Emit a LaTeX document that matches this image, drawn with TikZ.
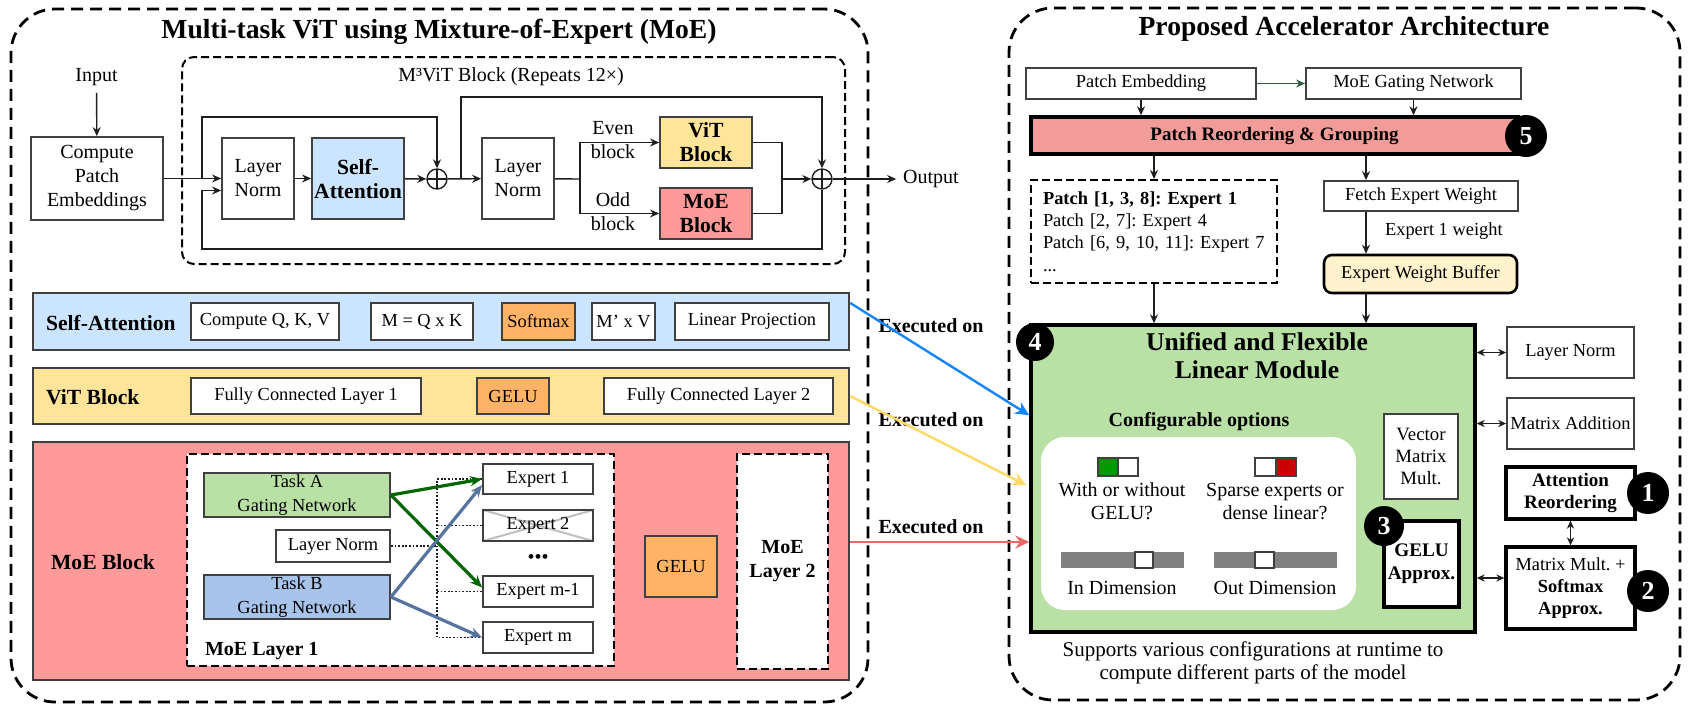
\documentclass[tikz,border=0pt]{standalone}
\usepackage{fontspec}
\setmainfont{Liberation Serif}
\usepackage{tikz}
\usetikzlibrary{arrows.meta,positioning,calc}
\frenchspacing
\definecolor{mvblue}{HTML}{CCE5FF}
\definecolor{mvyellow}{HTML}{FFE599}
\definecolor{mvpink}{HTML}{FF9A9A}
\definecolor{mvorange}{HTML}{FFB366}
\definecolor{mvgreen}{HTML}{B9E0A5}
\definecolor{mvsteel}{HTML}{A9C4EB}
\definecolor{mvroutegreen}{HTML}{006600}
\definecolor{mvrouteblue}{HTML}{56739E}
\definecolor{mvsalmon}{HTML}{F19C99}
\definecolor{mvcream}{HTML}{FFF2CC}
\definecolor{mvtoggle}{HTML}{009900}
\definecolor{mvred}{HTML}{CC0000}
\definecolor{mvgray}{HTML}{808080}
\definecolor{mvforest}{HTML}{2F5F40}
\definecolor{mvexblue}{HTML}{1585FF}
\definecolor{mvexyellow}{HTML}{FFD966}
\definecolor{mvexred}{HTML}{EA6B66}
\definecolor{mvink}{HTML}{1E1E1E}
\definecolor{mvline}{HTML}{404040}
\newcommand{\fsBody}{\fontsize{10}{12}\selectfont}
\newcommand{\fsSmall}{\fontsize{9.2}{11.2}\selectfont}
\newcommand{\fsBig}{\fontsize{10.8}{12}\selectfont}
\newcommand{\fsHead}{\fontsize{13.8}{16}\selectfont\bfseries}
\tikzset{
  flow/.style={-{Stealth[length=4.5pt,width=4pt]},line width=0.7pt,draw=mvink},
  link/.style={line width=0.7pt,draw=mvink},
  dualflow/.style={{Stealth[length=4pt,width=3.6pt]}-{Stealth[length=4pt,width=3.6pt]},line width=0.7pt,draw=mvink},
  execarrow/.style={-{Stealth[length=7pt,width=6.5pt]},line width=1.2pt},
  route/.style={-{Stealth[length=6pt,width=5pt]},line width=1.6pt},
  dotline/.style={line width=0.9pt,dash pattern=on 0.9pt off 0.9pt,draw=mvink},
  bsize/.style 2 args={minimum width=#1*0.5pt,minimum height=#2*0.5pt},
  box/.style={draw=mvline,line width=0.9pt,fill=white,align=center,inner sep=1pt,font=\fsBody},
  opbox/.style={box,font=\fsSmall},
  boldbox/.style={box,draw=black,line width=1.7pt,font=\fsSmall\bfseries},
  band/.style={draw=mvline,line width=1.1pt},
  panel/.style={draw=black,line width=1.4pt,dash pattern=on 6pt off 3.5pt,rounded corners=22pt},
  subpanel/.style={draw=black,fill=white,line width=1pt,dash pattern=on 4pt off 2pt},
  badge/.style={circle,fill=black,text=white,font=\fontsize{13}{13}\selectfont\bfseries,inner sep=0pt,minimum size=21pt},
  adder/.style={circle,draw=mvink,line width=0.7pt,fill=white,inner sep=0pt,minimum size=10pt,
    path picture={\draw[line width=0.7pt] (path picture bounding box.north) -- (path picture bounding box.south)
      (path picture bounding box.west) -- (path picture bounding box.east);}}
}
\begin{document}
\begin{tikzpicture}[x=0.5pt,y=-0.5pt]
  \useasboundingbox (0,0) rectangle (1689,709);
  \node[panel,bsize={857}{693}] (leftpanel) at (439.5,355.5) {};
  \node[panel,bsize={671}{692}] (rightpanel) at (1344.5,354) {};
  \node[font=\fsHead] (lefttitle) at (439,32) {Multi-task ViT using Mixture-of-Expert (MoE)};
  \node[font=\fsHead] (righttitle) at (1344,29) {Proposed Accelerator Architecture};

  \node[subpanel,fill=none,rounded corners=6pt,bsize={663}{207}] (m3box) at (513.5,160.5) {};
  \node[font=\fsBody] (m3label) at (511,77) {M³ViT Block (Repeats 12×)};
  \node[font=\fsBody] (input) at (96.5,77) {Input};
  \node[box,bsize={132}{83}] (cpe) at (97,178.5) {Compute\\Patch\\Embeddings};
  \node[box,bsize={72}{81}] (ln1) at (258,178.5) {Layer\\Norm};
  \node[box,fill=mvblue,bsize={92}{81},font=\fsBig\bfseries] (selfatt) at (358,178.5) {Self-\\Attention};
  \node[adder] (add1) at (437,179) {};
  \node[box,bsize={72}{81}] (ln2) at (518,178.5) {Layer\\Norm};
  \node[box,fill=mvyellow,bsize={92}{51},font=\fsBig\bfseries] (vitblk) at (706,142.5) {ViT\\Block};
  \node[box,fill=mvpink,bsize={92}{51},font=\fsBig\bfseries] (moeblk) at (706,213.5) {MoE\\Block};
  \node[adder] (add2) at (822,179) {};
  \node[font=\fsBody] (output) at (931,179) {Output};
  \node[font=\fsBody,align=center] (evenlbl) at (613,140.5) {Even\\block};
  \node[font=\fsBody,align=center] (oddlbl) at (613,212) {Odd\\block};
  \coordinate (sk1) at (202,179);
  \coordinate (sk1b) at (202,249);
  \coordinate (sk2) at (461,179);
  \coordinate (br) at (580,179);
  \coordinate (mg) at (782,179);
  \draw[flow] (input) -- (cpe);
  \draw[flow] (cpe) -- (ln1);
  \draw[flow] (ln1) -- (selfatt);
  \draw[flow] (selfatt) -- (add1);
  \draw[flow] (add1) -- (ln2);
  \draw[flow] (sk1) -- ++(0,-62) -| (add1.north);
  \draw[flow] (add2.south) |- (sk1b) |- ([yshift=-6pt]ln1.west);
  \draw[flow] (sk2) -- ++(0,-82) -| (add2.north);
  \draw[link] (ln2) -- (br);
  \draw[flow] (br) |- (vitblk);
  \draw[flow] (br) |- (moeblk);
  \draw[link] (vitblk) -| (mg);
  \draw[link] (moeblk) -| (mg);
  \draw[flow] (mg) -- (add2);
  \draw[flow] (add2) -- (output);

  \node[band,fill=mvblue,bsize={816}{57}] (saband) at (441,321.5) {};
  \node[font=\fsBig\bfseries,anchor=west] (salbl) at (39,323) {Self-Attention};
  \node[opbox,bsize={148}{37}] (qkv) at (265,321.5) {Compute Q, K, V};
  \node[opbox,bsize={102}{37}] (mqk) at (422,321.5) {M = Q x K};
  \node[opbox,fill=mvorange,bsize={73}{37}] (smax) at (538.5,321.5) {Softmax};
  \node[opbox,bsize={63}{37}] (mv) at (623.5,321.5) {M' x V};
  \node[opbox,bsize={154}{37}] (lproj) at (752,321.5) {Linear Projection};

  \node[band,fill=mvyellow,bsize={816}{56}] (vitband) at (441,396) {};
  \node[font=\fsBig\bfseries,anchor=west] (vitlbl) at (39,397) {ViT Block};
  \node[opbox,bsize={230}{36}] (fc1) at (306,396) {Fully Connected Layer 1};
  \node[opbox,fill=mvorange,bsize={72}{36}] (gelu1) at (513,396) {GELU};
  \node[opbox,bsize={229}{36}] (fc2) at (718.5,396) {Fully Connected Layer 2};

  \node[band,fill=mvpink,bsize={816}{238}] (moeband) at (441,561) {};
  \node[font=\fsBig\bfseries,anchor=west] (moelbl) at (44,562) {MoE Block};
  \node[subpanel,bsize={427}{212}] (layer1) at (400.5,560) {};
  \node[font=\fsBody\bfseries,anchor=west] (layer1lbl) at (198,651) {MoE Layer 1};
  \node[opbox,fill=mvgreen,bsize={186}{42},font=\fontsize{9.2}{12}\selectfont] (taska) at (297,495) {Task A\\Gating Network};
  \node[opbox,bsize={114}{32}] (lnm) at (333,546) {Layer Norm};
  \node[opbox,fill=mvsteel,bsize={186}{42},font=\fontsize{9.2}{12}\selectfont] (taskb) at (297,597) {Task B\\Gating Network};
  \node[opbox,bsize={110}{30}] (e1) at (538,479) {Expert 1};
  \node[opbox,bsize={110}{31},path picture={\draw[black!25,line width=1pt] (path picture bounding box.north west) -- (path picture bounding box.south east) (path picture bounding box.south west) -- (path picture bounding box.north east);}] (e2) at (538,525.5) {Expert 2};
  \node[font=\fsBody] (edots) at (538,559) {•••};
  \node[opbox,bsize={110}{31}] (em1) at (538,591.5) {Expert m-1};
  \node[opbox,bsize={110}{31}] (em) at (538,637.5) {Expert m};
  \node[opbox,fill=mvorange,bsize={72}{61}] (gelu2) at (681,566.5) {GELU};
  \node[subpanel,font=\fsBody\bfseries,align=center,bsize={91}{215}] (layer2) at (782.5,561.5) {MoE\\Layer 2};
  \coordinate (tap) at (437,546);
  \draw[dotline] (lnm.east) -- (tap);
  \draw[dotline] (e1.west) -| (tap) |- (em.west);
  \draw[dotline] (tap |- e2.west) -- (e2.west);
  \draw[dotline] (tap |- em1.west) -- (em1.west);
  \draw[route,draw=mvroutegreen] (taska.east) -- (e1.west);
  \draw[route,draw=mvroutegreen] (taska.east) -- ([yshift=2pt]em1.west);
  \draw[route,draw=mvrouteblue] (taskb.east) -- ([yshift=-3pt]e1.west);
  \draw[route,draw=mvrouteblue] (taskb.east) -- (em.west);

  \node[font=\fsBody\bfseries] (exec1) at (931,326) {Executed on};
  \node[font=\fsBody\bfseries] (exec2) at (931,420) {Executed on};
  \node[font=\fsBody\bfseries] (exec3) at (931,527) {Executed on};

  \node[opbox,bsize={230}{31}] (patchemb) at (1141,83.5) {Patch Embedding};
  \node[opbox,bsize={215}{31}] (gatenet) at (1413.5,83.5) {MoE Gating Network};
  \node[boldbox,fill=mvsalmon,font=\fontsize{9.5}{11}\selectfont\bfseries,bsize={487}{37}] (reorder) at (1274.5,135.5) {Patch Reordering \& Grouping};
  \node[subpanel,align=left,text width=111pt,inner xsep=6pt,minimum height=51.5pt,font=\fontsize{9.2}{11.2}\selectfont] (plist) at (1154,231.5) {\textbf{Patch [1, 3, 8]: Expert 1}\\Patch [2, 7]: Expert 4\\Patch [6, 9, 10, 11]: Expert 7\\...};
  \node[opbox,bsize={194}{30}] (fetch) at (1421,196) {Fetch Expert Weight};
  \node[font=\fsSmall,anchor=west] (wlabel) at (1378,231) {Expert 1 weight};
  \node[opbox,draw=black,line width=1.3pt,fill=mvcream,rounded corners=4pt,bsize={193}{38}] (wbuf) at (1420.5,274) {Expert Weight Buffer};
  \coordinate (wx) at (1366,196);

  \node[boldbox,fill=mvgreen,bsize={444}{307}] (unified) at (1253,478.5) {};
  \node[font=\fontsize{12.8}{14}\selectfont\bfseries,align=center] (unititle) at (1257,356) {Unified and Flexible\\Linear Module};
  \node[font=\fsBody\bfseries] (cfglbl) at (1199,422) {Configurable options};
  \node[fill=white,rounded corners=12pt,bsize={315}{173}] (optpanel) at (1198.5,523.5) {};
  \filldraw[fill=mvtoggle,draw=mvline,line width=0.6pt] (1098,458) rectangle (1118,476);
  \filldraw[fill=white,draw=mvline,line width=0.6pt] (1118,458) rectangle (1138,476);
  \filldraw[fill=white,draw=mvline,line width=0.6pt] (1255,458) rectangle (1276,476);
  \filldraw[fill=mvred,draw=mvline,line width=0.6pt] (1276,458) rectangle (1296,476);
  \node[font=\fontsize{10}{11.5}\selectfont,align=center] (geluq) at (1122,501.5) {With or without\\GELU?};
  \node[font=\fontsize{10}{11.5}\selectfont,align=center] (sparseq) at (1275,501.5) {Sparse experts or\\dense linear?};
  \fill[mvgray] (1061,552) rectangle (1184,568);
  \filldraw[fill=white,draw=mvline,line width=0.6pt] (1135,552) rectangle (1153,568);
  \fill[mvgray] (1214,552) rectangle (1337,568);
  \filldraw[fill=white,draw=mvline,line width=0.6pt] (1255,552) rectangle (1274,568);
  \node[font=\fsBody] (indim) at (1122,588) {In Dimension};
  \node[font=\fsBody] (outdim) at (1275,588) {Out Dimension};
  \node[opbox,font=\fontsize{9.4}{10.8}\selectfont,bsize={74}{85}] (vmm) at (1421,456.5) {Vector\\Matrix\\Mult.};
  \node[boldbox,font=\fontsize{9.6}{11.5}\selectfont\bfseries,bsize={75}{86}] (geluapx) at (1421.5,564) {GELU\\Approx.};

  \node[opbox,bsize={127}{51}] (lnright) at (1570.5,352.5) {Layer Norm};
  \node[opbox,bsize={127}{51}] (madd) at (1570.5,423.5) {Matrix Addition};
  \node[boldbox,font=\fontsize{9.5}{11}\selectfont\bfseries,bsize={129}{52}] (attre) at (1570.5,493) {Attention\\Reordering};
  \node[boldbox,font=\fontsize{9.2}{10.8}\selectfont,bsize={129}{82}] (mmsm) at (1570.5,588) {Matrix Mult. +\\\textbf{Softmax}\\\textbf{Approx.}};

  \draw[flow,draw=mvforest] (patchemb) -- (gatenet);
  \draw[flow] (patchemb.south) -- (patchemb.south |- reorder.north);
  \draw[flow] (gatenet.south) -- (gatenet.south |- reorder.north);
  \draw[flow] (plist.north |- reorder.south) -- (plist.north);
  \draw[flow] (reorder.south -| wx) -- (fetch.north -| wx);
  \draw[flow] (fetch.south -| wx) -- (wbuf.north -| wx);
  \draw[flow] (wbuf.south -| wx) -- (unified.north -| wx);
  \draw[flow] (plist.south) -- (plist.south |- unified.north);
  \draw[dualflow] (unified.east |- lnright.west) -- (lnright.west);
  \draw[dualflow] (unified.east |- madd.west) -- (madd.west);
  \draw[dualflow] ([yshift=5pt]mmsm.west -| unified.east) -- ([yshift=5pt]mmsm.west);
  \draw[dualflow] (attre) -- (mmsm);

  \draw[execarrow,draw=mvexblue] ([yshift=-5.5pt]saband.north east) -- ([yshift=-46pt]unified.north west);
  \draw[execarrow,draw=mvexyellow] (vitband.east) -- ([xshift=-1.5pt,yshift=-81pt]unified.north west);
  \draw[execarrow,draw=mvexred] ([yshift=9.5pt]moeband.east) -- ([yshift=9.5pt]moeband.east -| unified.west);

  \node[font=\fontsize{10.5}{11.5}\selectfont,align=center] (caption) at (1253,662.5) {Supports various configurations at runtime to\\compute different parts of the model};

  \node[badge] (b5) at (1526,136) {5};
  \node[badge,minimum size=19pt] (b4) at (1035,342) {4};
  \node[badge,minimum size=20pt] (b3) at (1384,526) {3};
  \node[badge] (b1) at (1648,493) {1};
  \node[badge] (b2) at (1648,591) {2};
\end{tikzpicture}
\end{document}
